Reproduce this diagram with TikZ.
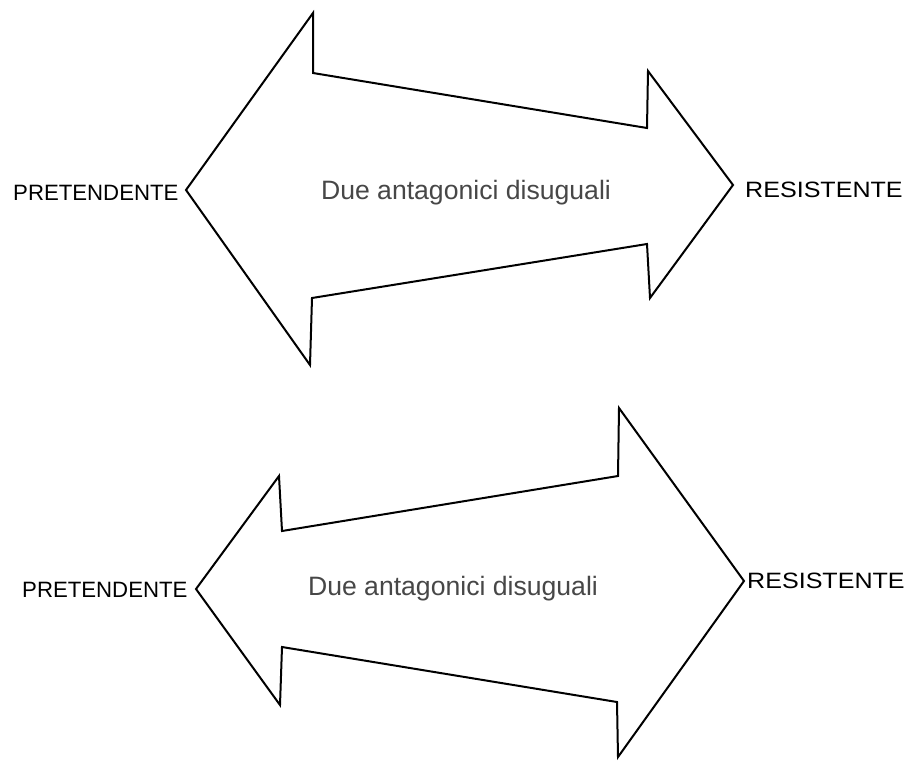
\documentclass[tikz,border=0pt]{standalone}
\usepackage{fontspec}
\setmainfont{Liberation Sans}
\begin{document}
\begin{tikzpicture}[x=1pt,y=-1pt,
  shapeline/.style={draw=black,line width=2pt,line join=miter},
  sidelabel/.style={anchor=base west,inner sep=0pt,font=\fontsize{22.2}{24}\selectfont,text=black},
  midlabel/.style={anchor=base,inner sep=0pt,font=\fontsize{26.6}{28}\selectfont,text=black!72}]
\useasboundingbox[fill=white] (0,0) rectangle (913,761);
% top double arrow
\draw[shapeline] (186,190) -- (313,13) -- (313,73) -- (647,128) -- (648,71) -- (733,185)
  -- (650,298) -- (647,244) -- (312,298) -- (310,365) -- cycle;
% bottom double arrow
\draw[shapeline] (196,589) -- (279,476) -- (282,531) -- (618,476) -- (619,408) -- (744,581)
  -- (618,757) -- (617,702) -- (282,647) -- (280,705) -- cycle;
% labels
\node[sidelabel] (p1) at (13,200) {PRETENDENTE};
\node[sidelabel] (r1) at (745,197) {\scalebox{1.13}[1]{RESISTENTE}};
\node[midlabel] (m1) at (466,199) {Due antagonici disuguali};
\node[sidelabel] (p2) at (22,597) {PRETENDENTE};
\node[sidelabel] (r2) at (747,588) {\scalebox{1.13}[1]{RESISTENTE}};
\node[midlabel] (m2) at (453,595) {Due antagonici disuguali};
\end{tikzpicture}
\end{document}
